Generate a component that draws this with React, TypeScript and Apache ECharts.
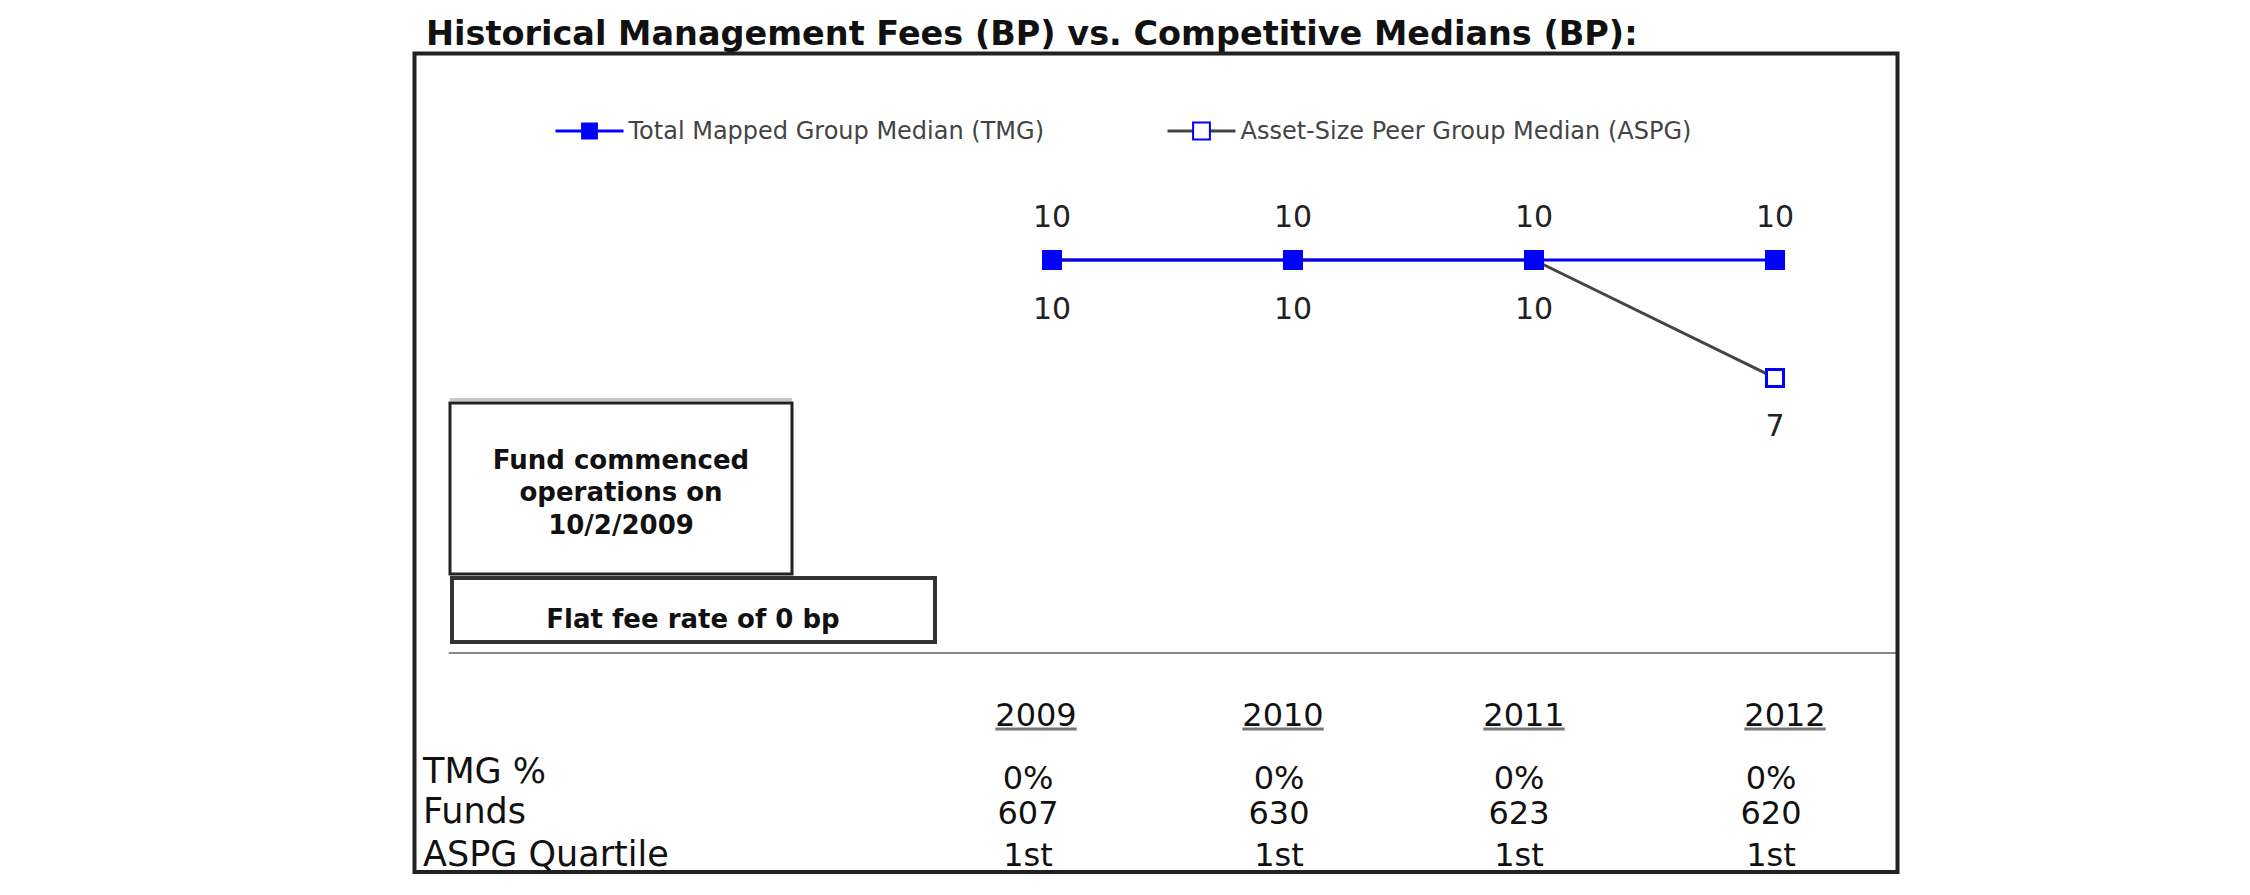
import React, { useEffect, useRef } from "react";
import * as echarts from "echarts";

// ---- data ----
const categories = ["", "", "2009", "2010", "2011", "2012"];
const tmgValues = [null, null, 10, 10, 10, 10];
const aspgValues = [null, null, 10, 10, 10, 7];
const seriesNames = ["Total Mapped Group Median (TMG)", "Asset-Size Peer Group Median (ASPG)"];
const tableYears = ["2009", "2010", "2011", "2012"];
const rowLabels = ["TMG %", "Funds", "ASPG Quartile"];
const tmgPct = ["0%", "0%", "0%", "0%"];
const funds = ["607", "630", "623", "620"];
const quartiles = ["1st", "1st", "1st", "1st"];
const titleText = "Historical Management Fees (BP) vs. Competitive Medians (BP):";
const noteLines = ["Fund commenced", "operations on", "10/2/2009"];
const flatFeeNote = "Flat fee rate of 0 bp";

// ---- layout ----
const FONT = '"DejaVu Sans", Verdana, sans-serif';
const yearColX = [1036, 1283, 1524, 1785];
const valueColX = [1028, 1279, 1519, 1771];
const rowLabelY = [771, 811, 854];
const rowValueY = [778, 813, 855];
const TABLE_FS = 32;
const LABEL_FS = 35;

export default function App() {
  const ref = useRef<HTMLDivElement>(null);

  useEffect(() => {
    if (!ref.current) return;
    const chart = echarts.init(ref.current, undefined, { renderer: "svg" });

    const graphics: any[] = [];
    // outer frame
    graphics.push({
      type: "rect",
      shape: { x: 414.5, y: 53.5, width: 1483, height: 818.5 },
      style: { fill: "none", stroke: "#222", lineWidth: 4 },
      z: 1,
    });
    // title
    graphics.push({
      type: "text",
      x: 426,
      y: 33,
      style: {
        text: titleText,
        fontFamily: FONT,
        fontWeight: "bold",
        fontSize: 33.5,
        fill: "#111",
        align: "left",
        verticalAlign: "middle",
      },
    });
    // note box 1
    graphics.push({
      type: "line",
      shape: { x1: 450, y1: 399.5, x2: 792, y2: 399.5 },
      style: { stroke: "#c8c8c8", lineWidth: 3 },
    });
    graphics.push({
      type: "rect",
      shape: { x: 450, y: 403, width: 342, height: 171 },
      style: { fill: "#fff", stroke: "#222", lineWidth: 3 },
    });
    const noteYs = [460, 492, 525];
    noteLines.forEach((t, i) => {
      graphics.push({
        type: "text",
        x: 621,
        y: noteYs[i],
        style: {
          text: t,
          fontFamily: FONT,
          fontWeight: "bold",
          fontSize: 26,
          fill: "#111",
          align: "center",
          verticalAlign: "middle",
        },
      });
    });
    // note box 2
    graphics.push({
      type: "rect",
      shape: { x: 452, y: 578, width: 483, height: 64 },
      style: { fill: "#fff", stroke: "#333", lineWidth: 4 },
    });
    graphics.push({
      type: "text",
      x: 693,
      y: 619,
      style: {
        text: flatFeeNote,
        fontFamily: FONT,
        fontWeight: "bold",
        fontSize: 26,
        fill: "#111",
        align: "center",
        verticalAlign: "middle",
      },
    });
    // table: years with underline
    tableYears.forEach((yr, i) => {
      const w = yr.length * 0.636 * TABLE_FS;
      graphics.push({
        type: "text",
        x: yearColX[i],
        y: 715,
        style: {
          text: yr,
          fontFamily: FONT,
          fontSize: TABLE_FS,
          fill: "#111",
          align: "center",
          verticalAlign: "middle",
        },
      });
      graphics.push({
        type: "line",
        shape: { x1: yearColX[i] - w / 2, y1: 729, x2: yearColX[i] + w / 2, y2: 729 },
        style: { stroke: "#777", lineWidth: 3 },
      });
    });
    // table rows
    rowLabels.forEach((lab, r) => {
      graphics.push({
        type: "text",
        x: 423,
        y: rowLabelY[r],
        style: {
          text: lab,
          fontFamily: FONT,
          fontSize: LABEL_FS,
          fill: "#111",
          align: "left",
          verticalAlign: "middle",
        },
      });
    });
    const rows = [tmgPct, funds, quartiles];
    rows.forEach((vals, r) => {
      vals.forEach((v, i) => {
        graphics.push({
          type: "text",
          x: valueColX[i],
          y: rowValueY[r],
          style: {
            text: v,
            fontFamily: FONT,
            fontSize: TABLE_FS,
            fill: "#111",
            align: "center",
            verticalAlign: "middle",
          },
        });
      });
    });

    const option: any = {
      animation: false,
      backgroundColor: "#fff",
      legend: {
        left: 549,
        top: 114,
        itemWidth: 68,
        itemHeight: 21,
        itemGap: 122,
        selectedMode: false,
        lineStyle: { width: 3 },
        textStyle: { fontFamily: FONT, fontSize: 24, color: "#444" },
        data: seriesNames,
      },
      grid: { left: 449.5, right: 354.5, top: 181.4, bottom: 242 },
      xAxis: {
        type: "category",
        data: categories,
        boundaryGap: true,
        axisLine: { show: true, lineStyle: { color: "#888", width: 2 } },
        axisTick: { show: false },
        axisLabel: { show: false },
        splitLine: { show: false },
      },
      yAxis: {
        type: "value",
        min: 0,
        max: 12,
        show: false,
        splitLine: { show: false },
      },
      series: [
        {
          name: seriesNames[1],
          type: "line",
          data: aspgValues,
          z: 2,
          symbol: "rect",
          symbolSize: 17,
          showAllSymbol: true,
          lineStyle: { color: "#444", width: 3 },
          itemStyle: { color: "#fff", borderColor: "#0000ff", borderWidth: 3 },
          label: {
            show: true,
            position: "bottom",
            distance: 23,
            fontFamily: FONT,
            fontSize: 30,
            color: "#222",
          },
        },
        {
          name: seriesNames[0],
          type: "line",
          data: tmgValues,
          z: 3,
          symbol: "rect",
          symbolSize: 20,
          showAllSymbol: true,
          lineStyle: { color: "#0000ff", width: 3 },
          itemStyle: { color: "#0000ff" },
          label: {
            show: true,
            position: "top",
            distance: 19,
            fontFamily: FONT,
            fontSize: 30,
            color: "#222",
          },
        },
      ],
      graphic: graphics,
    };

    chart.setOption(option);
    return () => chart.dispose();
  }, []);

  return (
    <div
      ref={ref}
      style={{ position: "absolute", left: 0, top: 0, width: 2250, height: 895 }}
    />
  );
}
